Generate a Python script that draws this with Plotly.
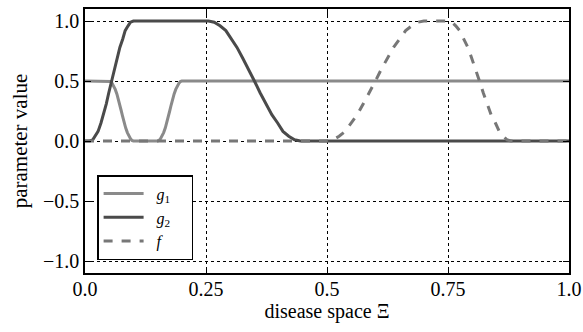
import plotly.graph_objects as go

# g1: light gray solid
g1_x = [0, 0.05, 0.053, 0.056, 0.059, 0.0625, 0.066, 0.069, 0.072, 0.075, 0.078, 0.081, 0.084,
        0.0875, 0.091, 0.094, 0.097, 0.1,
        0.15, 0.153, 0.156, 0.159, 0.1625, 0.166, 0.169, 0.172, 0.175, 0.178, 0.181, 0.184,
        0.1875, 0.191, 0.194, 0.197, 0.2, 1.0]
g1_y = [0.5, 0.5, 0.495, 0.48, 0.46, 0.43, 0.39, 0.35, 0.30, 0.25, 0.20, 0.15, 0.11,
        0.07, 0.04, 0.02, 0.005, 0.0,
        0.0, 0.005, 0.02, 0.04, 0.07, 0.11, 0.15, 0.20, 0.25, 0.30, 0.35, 0.39,
        0.43, 0.46, 0.48, 0.495, 0.5, 0.5]

# g2: dark gray solid
g2_x = [0, 0.01, 0.016, 0.021, 0.027, 0.033, 0.038, 0.044, 0.049, 0.055, 0.061, 0.066, 0.072,
        0.078, 0.083, 0.089, 0.094, 0.1,
        0.255, 0.267, 0.279, 0.291, 0.303, 0.314, 0.326, 0.338, 0.35, 0.362, 0.374, 0.386,
        0.398, 0.409, 0.421, 0.433, 0.445, 1.0]
g2_y = [0.0, 0.0, 0.01, 0.04, 0.08, 0.15, 0.22, 0.31, 0.40, 0.5, 0.60, 0.69, 0.78,
        0.85, 0.92, 0.96, 0.99, 1.0,
        1.0, 0.99, 0.96, 0.92, 0.85, 0.78, 0.69, 0.60, 0.5, 0.40, 0.31, 0.22,
        0.15, 0.08, 0.04, 0.01, 0.0, 0.0]

# f: gray dashed
f_x = [0, 0.5, 0.5125, 0.525, 0.5375, 0.55, 0.5625, 0.575, 0.5875, 0.6, 0.6125, 0.625, 0.6375,
       0.65, 0.6625, 0.675, 0.6875, 0.7,
       0.75, 0.758, 0.766, 0.774, 0.783, 0.791, 0.799, 0.807, 0.815, 0.823, 0.831, 0.839,
       0.848, 0.856, 0.864, 0.872, 0.88, 1.0]
f_y = [0.0, 0.0, 0.01, 0.04, 0.08, 0.15, 0.22, 0.31, 0.40, 0.5, 0.60, 0.69, 0.78,
       0.85, 0.92, 0.96, 0.99, 1.0,
       1.0, 0.99, 0.96, 0.92, 0.85, 0.78, 0.69, 0.60, 0.5, 0.40, 0.31, 0.22,
       0.15, 0.08, 0.04, 0.01, 0.0, 0.0]

x_ticks = [0, 0.25, 0.5, 0.75, 1.0]
x_ticktext = ["0.0", "0.25", "0.5", "0.75", "1.0"]
y_ticks = [-1.0, -0.5, 0.0, 0.5, 1.0]
y_ticktext = ["\u22121.0", "\u22120.5", "0.0", "0.5", "1.0"]

FONT = "'Liberation Serif', 'Times New Roman', Tinos, 'DejaVu Serif', 'Noto Serif', serif"

fig = go.Figure()
fig.add_trace(go.Scatter(x=g1_x, y=g1_y, mode="lines", name="\u00a0\u00a0<i>g</i><sub>1</sub>\u00a0\u00a0\u00a0\u00a0",
                         line=dict(color="#8a8a8a", width=3)))
fig.add_trace(go.Scatter(x=g2_x, y=g2_y, mode="lines", name="\u00a0\u00a0<i>g</i><sub>2</sub>\u00a0\u00a0\u00a0\u00a0",
                         line=dict(color="#4a4a4a", width=3)))
fig.add_trace(go.Scatter(x=f_x, y=f_y, mode="lines", name="\u00a0\u00a0<i>f</i>",
                         line=dict(color="#777777", width=3, dash="dash")))

axis_common = dict(
    showline=True, linecolor="black", linewidth=1.5, mirror="ticks",
    ticks="inside", ticklen=6, tickwidth=1.2, tickcolor="black",
    showgrid=True, gridcolor="black", gridwidth=1, griddash="dot",
    zeroline=False, automargin=True, ticklabeloverflow="allow",
    tickfont=dict(family=FONT, size=20, color="black"),
)

fig.update_xaxes(range=[0, 1], tickvals=x_ticks, ticktext=x_ticktext, ticklabelstandoff=-3,
                 title=dict(text="disease space \u039e", font=dict(family=FONT, size=20, color="black"),
                            standoff=2),
                 **axis_common)
fig.update_yaxes(range=[-1.1, 1.1], tickvals=y_ticks, ticktext=y_ticktext,
                 title=dict(text="parameter value", font=dict(family=FONT, size=21, color="black"),
                            standoff=10),
                 **axis_common)

fig.update_layout(
    width=583, height=332,
    margin=dict(l=85, r=14, t=9, b=59, autoexpand=False),
    paper_bgcolor="white", plot_bgcolor="white",
    font=dict(family=FONT, color="black"),
    legend=dict(x=0.025, y=0.371, xanchor="left", yanchor="top",
                bgcolor="white", bordercolor="black", borderwidth=1.5,
                font=dict(family=FONT, size=16, color="black"),
                tracegroupgap=0, itemwidth=40),
    showlegend=True,
)

fig.write_html("out.html")
